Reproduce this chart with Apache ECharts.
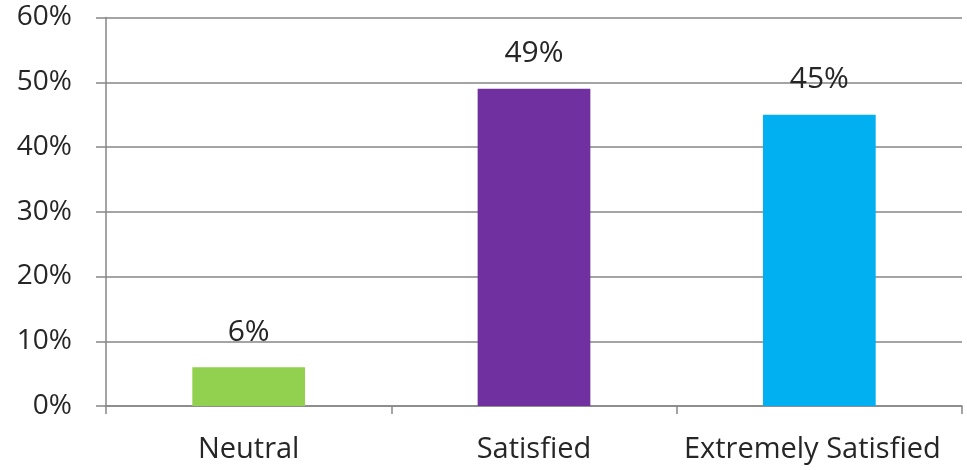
<!DOCTYPE html>
<html><head><meta charset="utf-8">
<script src="https://cdn.jsdelivr.net/npm/echarts@6/dist/echarts.min.js"></script>
<style>html,body{margin:0;padding:0;background:#fff}#c{width:967px;height:470px}</style>
</head><body><div id="c"></div>
<script>
const categories = ["Neutral", "Satisfied", "Extremely Satisfied"];
const values = [6, 49, 45];
const barColors = ["#92D050", "#7030A0", "#00B0F0"];
const yTicks = [0, 10, 20, 30, 40, 50, 60];

const chart = echarts.init(document.getElementById('c'), null, {renderer: 'canvas'});
const font = "'Open Sans', 'DejaVu Sans', sans-serif";
chart.setOption({
  animation: false,
  grid: {left: 106, right: 5, top: 17.5, bottom: 64, containLabel: false},
  xAxis: {
    type: 'category',
    data: categories.map((c, i) => i === categories.length - 1
      ? {value: c, textStyle: {padding: [0, 14, 0, 0]}} : c),
    axisLine: {lineStyle: {color: '#868686', width: 1.5}},
    axisTick: {show: true, length: 8, alignWithLabel: false, lineStyle: {color: '#868686', width: 1.5}},
    axisLabel: {color: '#262626', fontSize: 29, fontFamily: font, margin: 29,
      interval: 0, hideOverlap: false}
  },
  yAxis: {
    type: 'value',
    min: yTicks[0], max: yTicks[yTicks.length - 1], interval: 10,
    axisLine: {show: true, lineStyle: {color: '#868686', width: 1.5}},
    axisTick: {show: true, length: 10, lineStyle: {color: '#868686', width: 1.5}},
    splitLine: {lineStyle: {color: '#868686', width: 1.5}},
    axisLabel: {color: '#262626', fontSize: 28, fontFamily: font, margin: 34,
      formatter: v => v + '%'}
  },
  series: [{
    type: 'bar',
    barWidth: '39.5%',
    data: values.map((v, i) => ({value: v, itemStyle: {color: barColors[i]}})),
    label: {show: true, position: 'top', distance: 20, color: '#262626', fontSize: 30,
      fontFamily: font, formatter: p => p.value + '%'}
  }]
});
</script></body></html>
